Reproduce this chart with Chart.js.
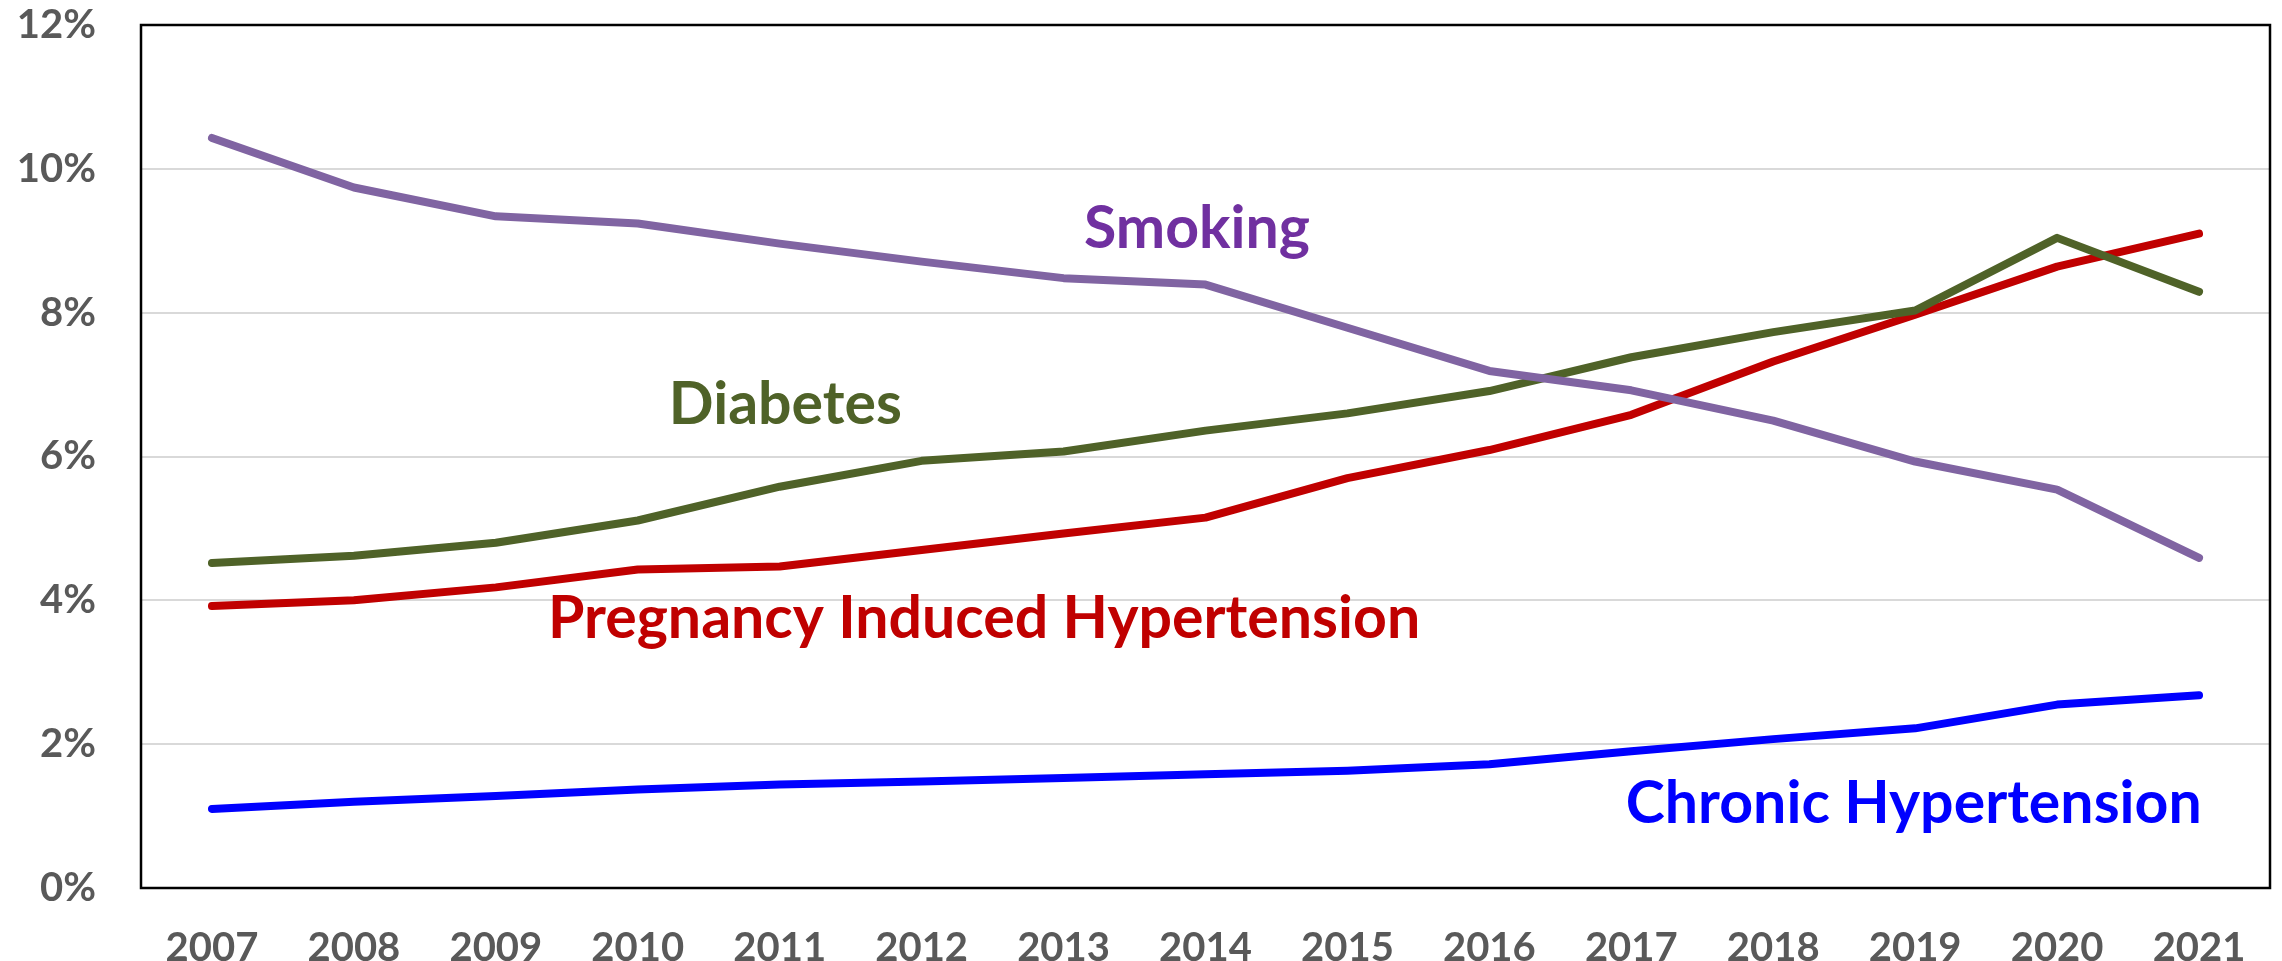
<!DOCTYPE html>
<html>
<head>
<meta charset="utf-8">
<script src="https://cdn.jsdelivr.net/npm/chart.js@4.4.1/dist/chart.umd.min.js"></script>
<style>
  html, body { margin: 0; padding: 0; background: #fff; }
  #wrap { width: 2282px; height: 961px; position: relative; }
</style>
</head>
<body>
<div id="wrap"><canvas id="rates"></canvas></div>
<script>
const years = ['2007','2008','2009','2010','2011','2012','2013','2014','2015','2016','2017','2018','2019','2020','2021'];
const smoking  = [10.43, 9.74, 9.34, 9.24, 8.96, 8.71, 8.48, 8.39, 7.79, 7.19, 6.92, 6.50, 5.93, 5.54, 4.59];
const diabetes = [4.52, 4.62, 4.80, 5.11, 5.58, 5.94, 6.07, 6.36, 6.60, 6.91, 7.38, 7.73, 8.03, 9.04, 8.29];
const pih      = [3.92, 4.00, 4.18, 4.43, 4.47, 4.70, 4.93, 5.15, 5.70, 6.09, 6.58, 7.32, 7.97, 8.64, 9.10];
const chronic  = [1.10, 1.20, 1.28, 1.37, 1.44, 1.48, 1.53, 1.58, 1.63, 1.72, 1.90, 2.07, 2.22, 2.55, 2.68];
const seriesNames = ['Smoking', 'Diabetes', 'Pregnancy Induced Hypertension', 'Chronic Hypertension'];
const yTicks = [0, 2, 4, 6, 8, 10, 12];

// where each series name sits: [category index, value at text baseline]
const labelSpots = [[6.94, 8.90], [4.04, 6.45], [5.44, 3.47], [11.99, 0.90]];
const lineColors = ['#8064A2', '#4F6228', '#C00000', '#0000FF'];
const textColors = ['#7030A0', '#4F6228', '#C00000', '#0000FF'];
const FONT = 'Lato, "Noto Sans", sans-serif';

const frame = {
  id: 'frame',
  beforeDatasetsDraw(chart) {
    const a = chart.chartArea, c = chart.ctx;
    c.save();
    c.strokeStyle = '#000';
    c.lineWidth = 2.5;
    c.strokeRect(a.left, a.top, a.right - a.left, a.bottom - a.top);
    c.restore();
  }
};

const seriesText = {
  id: 'seriesText',
  afterDatasetsDraw(chart) {
    const c = chart.ctx, xs = chart.scales.x, ys = chart.scales.y;
    c.save();
    c.font = 'bold 59px ' + FONT;
    c.textAlign = 'center';
    c.textBaseline = 'alphabetic';
    seriesNames.forEach((name, i) => {
      c.fillStyle = textColors[i];
      c.fillText(name, xs.getPixelForValue(labelSpots[i][0]), ys.getPixelForValue(labelSpots[i][1]));
    });
    c.restore();
  }
};

const sets = [smoking, diabetes, pih, chronic].map((d, i) => ({
  label: seriesNames[i],
  data: d,
  borderColor: lineColors[i],
  backgroundColor: lineColors[i],
  borderWidth: 8,
  borderCapStyle: 'round',
  borderJoinStyle: 'round',
  pointRadius: 0,
  fill: false,
  tension: 0
}));

new Chart(document.getElementById('rates').getContext('2d'), {
  type: 'line',
  data: { labels: years, datasets: sets },
  options: {
    responsive: true,
    maintainAspectRatio: false,
    animation: false,
    layout: { padding: { left: 0, right: 12, top: 0, bottom: 0 } },
    plugins: {
      legend: { display: false },
      tooltip: { enabled: false }
    },
    scales: {
      x: {
        offset: true,
        grid: { display: false, drawTicks: false },
        border: { display: false },
        ticks: {
          color: '#595959',
          padding: 36,
          maxRotation: 0,
          font: { family: FONT, size: 40, weight: 'bold' }
        },
        afterFit(s) { s.height = 73; }
      },
      y: {
        min: 0,
        max: 12,
        afterBuildTicks(s) { s.ticks = yTicks.map(v => ({ value: v })); },
        grid: { color: '#D9D9D9', lineWidth: 2, drawTicks: false },
        border: { display: false },
        ticks: {
          color: '#595959',
          padding: 45,
          font: { family: FONT, size: 40, weight: 'bold' },
          callback: v => v + '%'
        },
        afterFit(s) {
          s.width = 141;
          s.paddingTop = 25;
          s.paddingBottom = 0;
        }
      }
    }
  },
  plugins: [frame, seriesText]
});
</script>
</body>
</html>
